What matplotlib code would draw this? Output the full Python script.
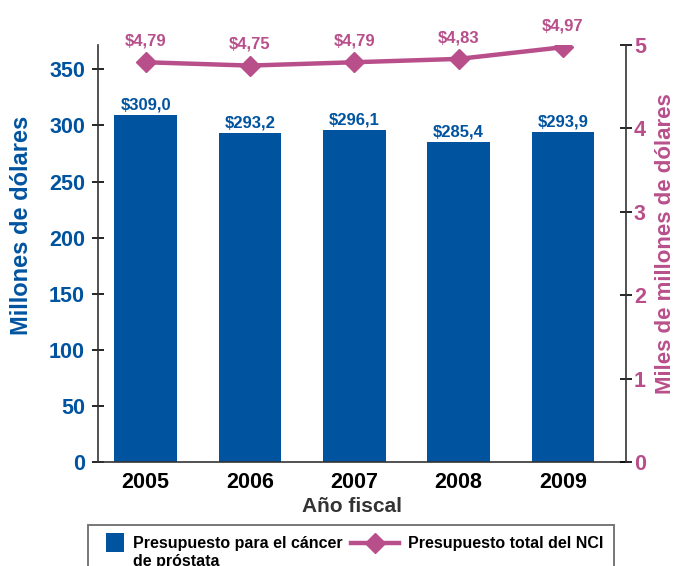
import matplotlib.pyplot as plt
from matplotlib.container import BarContainer
from matplotlib.legend_handler import HandlerPatch, HandlerLine2D
from matplotlib.lines import Line2D
from matplotlib.patches import Rectangle
from matplotlib.transforms import Affine2D

years = ["2005", "2006", "2007", "2008", "2009"]
prostate_budget = [309.0, 293.2, 296.1, 285.4, 293.9]   # millones
nci_total = [4.79, 4.75, 4.79, 4.83, 4.97]              # miles de millones

blue = "#00539F"
pink = "#B84F8B"

plt.rcParams["font.family"] = ["Liberation Sans", "DejaVu Sans"]
plt.rcParams["font.weight"] = "bold"


class SquareHandler(HandlerPatch):
    # small square handle, lined up with the first text line
    def legend_artist(self, legend, orig_handle, fontsize, handlebox):
        size = 1.15 * fontsize
        off = 0.4 * fontsize
        handlebox.width = size + off
        fc = orig_handle.patches[0].get_facecolor()
        r = Rectangle((off, 0.42 * fontsize), size, size,
                      facecolor=fc, edgecolor="none")
        handlebox.add_artist(r)
        return r


class RaisedLineHandler(HandlerLine2D):
    def create_artists(self, legend, orig_handle, xdescent, ydescent,
                       width, height, fontsize, trans):
        trans = Affine2D().translate(0, 0.6 * fontsize) + trans
        return super().create_artists(legend, orig_handle, xdescent, ydescent,
                                      width, height, fontsize, trans)


def fmt(v, nd):
    return "$" + f"{v:.{nd}f}".replace(".", ",")


fig = plt.figure(figsize=(6.87, 5.66), dpi=100)
ax = fig.add_axes([0.142, 0.1837, 0.7685, 0.7373])
x = list(range(len(years)))

bars = ax.bar(x, prostate_budget, width=0.6, color=blue, zorder=2,
              label="Presupuesto para el cáncer\nde próstata")
ax.bar_label(bars, labels=[fmt(v, 1) for v in prostate_budget], padding=2,
             color=blue, fontsize=12, fontweight="bold")

ax.set_xlim(-0.46, 4.6)
ax.set_ylim(0, 372)
ax.set_yticks(range(0, 351, 50))
ax.set_xticks(x)
ax.set_xticklabels(years)
ax.tick_params(axis="x", length=0, pad=7, labelsize=15.5, labelcolor="black")
ax.tick_params(axis="y", direction="inout", length=8, width=1.2, pad=5,
               labelsize=15.5, labelcolor=blue)
for lab in ax.get_xticklabels() + ax.get_yticklabels():
    lab.set_fontweight("bold")
ax.spines["top"].set_visible(False)
ax.spines["right"].set_visible(False)
ax.spines["left"].set_color("#333333")
ax.spines["bottom"].set_color("#333333")
ax.spines["left"].set_linewidth(1.2)
ax.spines["bottom"].set_linewidth(1.2)
ax.set_xlabel("Año fiscal", fontsize=15, fontweight="bold", color="#333333")
ax.xaxis.set_label_coords(0.482, -0.085)
ax.set_ylabel("Millones de dólares", fontsize=17, fontweight="bold",
              color=blue)
ax.yaxis.set_label_coords(-0.122, 0.566)

ax2 = ax.twinx()
line, = ax2.plot(x, nci_total, color=pink, linewidth=3.2, marker="D",
                 markersize=10, zorder=3, label="Presupuesto total del NCI\n")
for xi, v in zip(x, nci_total):
    ax2.annotate(fmt(v, 2), (xi, v), xytext=(0, 10), textcoords="offset points",
                 ha="center", va="bottom", color=pink, fontsize=12,
                 fontweight="bold", annotation_clip=False)
ax2.set_ylim(0, 5)
ax2.set_yticks(range(0, 6))
ax2.tick_params(axis="y", direction="inout", length=8, width=1.2, pad=2,
                labelsize=15.5, labelcolor=pink)
for lab in ax2.get_yticklabels():
    lab.set_fontweight("bold")
for s in ["top", "left", "bottom"]:
    ax2.spines[s].set_visible(False)
ax2.spines["right"].set_color("#333333")
ax2.spines["right"].set_linewidth(1.2)
ax2.set_ylabel("Miles de millones de dólares", fontsize=16, fontweight="bold",
               color=pink)
ax2.yaxis.set_label_coords(1.056, 0.523)

leg = fig.legend(handles=[bars, line], loc="upper left", ncol=2,
                 bbox_to_anchor=(88 / 687, 1 - 525 / 566),
                 handler_map={BarContainer: SquareHandler(),
                              Line2D: RaisedLineHandler()},
                 fontsize=11.5, handlelength=3.0, columnspacing=0.55,
                 handletextpad=0.55, frameon=True, fancybox=False,
                 edgecolor="#555555", borderpad=0.7, borderaxespad=0)
leg.get_frame().set_linewidth(1.4)
for t in leg.get_texts():
    t.set_fontweight("bold")

fig.savefig("out.png", dpi=100)
